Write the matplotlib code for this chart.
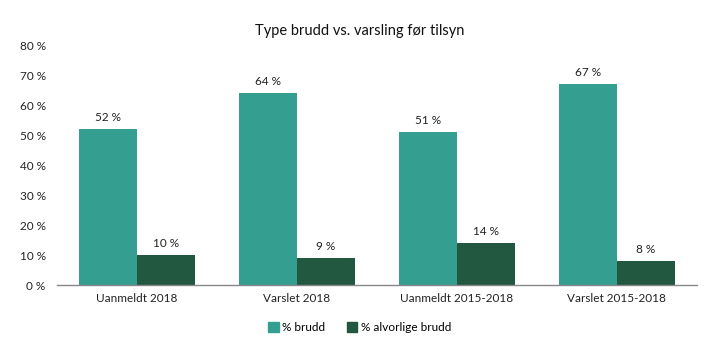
import numpy as np
import matplotlib
matplotlib.use('Agg')
import matplotlib.pyplot as plt
from matplotlib.patches import Patch

categories = ['Uanmeldt 2018', 'Varslet 2018', 'Uanmeldt 2015-2018', 'Varslet 2015-2018']
brudd = [52, 64, 51, 67]
alvorlige = [10, 9, 14, 8]
series_names = ['% brudd', '% alvorlige brudd']
yticks = [0, 10, 20, 30, 40, 50, 60, 70, 80]

teal = '#349e91'
dark = '#235840'

plt.rcParams['font.family'] = ['Lato', 'DejaVu Sans']

fig = plt.figure(figsize=(7.19, 3.41), dpi=100)
ax = fig.add_axes([0.079, 0.164, 0.890, 0.704])

x = np.arange(len(categories))
w = 0.3625
b1 = ax.bar(x - w / 2, brudd, w, color=teal)
b2 = ax.bar(x + w / 2, alvorlige, w, color=dark)

for bars, vals in ((b1, brudd), (b2, alvorlige)):
    for r, v in zip(bars, vals):
        ax.text(r.get_x() + r.get_width() / 2, v + 2, f'{v} %',
                ha='center', va='bottom', fontsize=8.5, color='#222222')

ax.set_xlim(-0.5, len(categories) - 0.5)
ax.set_ylim(0, 80)
ax.set_yticks(yticks)
ax.set_yticklabels([f'{t} %' for t in yticks])
ax.set_xticks(x)
ax.set_xticklabels(categories)
ax.tick_params(axis='both', length=0, labelsize=8.5, colors='#222222')
ax.tick_params(axis='y', pad=8)
ax.tick_params(axis='x', pad=6)

for s in ('top', 'right', 'left'):
    ax.spines[s].set_visible(False)
ax.spines['bottom'].set_color('#888888')
ax.spines['bottom'].set_linewidth(1)

fig.text(0.5, 0.89, 'Type brudd vs. varsling før tilsyn', ha='center',
         va='bottom', fontsize=10.5, color='#111111')

handles = [Patch(color=teal), Patch(color=dark)]
fig.legend(handles, series_names, loc='center', bbox_to_anchor=(0.5, 0.04),
           ncol=2, frameon=False, fontsize=8.5, handlelength=0.9,
           handleheight=0.9, handletextpad=0.3, columnspacing=1.8)

fig.savefig('out.png', dpi=100)
